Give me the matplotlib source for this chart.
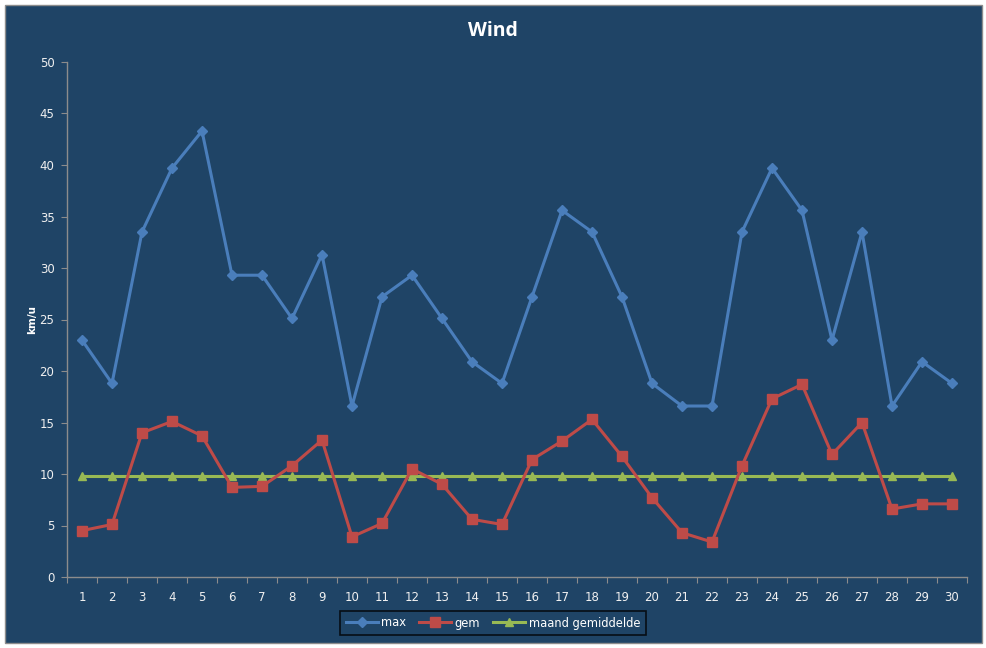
import matplotlib
matplotlib.use("Agg")
import matplotlib.pyplot as plt
from matplotlib.patches import Rectangle
from matplotlib.ticker import FixedLocator, NullFormatter

days = list(range(1, 31))
max_vals = [23.0, 18.8, 33.5, 39.7, 43.3, 29.3, 29.3, 25.1, 31.3, 16.6,
            27.2, 29.3, 25.1, 20.9, 18.8, 27.2, 35.6, 33.5, 27.2, 18.8,
            16.6, 16.6, 33.5, 39.7, 35.6, 23.0, 33.5, 16.6, 20.9, 18.8]
gem_vals = [4.5, 5.1, 14.0, 15.1, 13.7, 8.7, 8.8, 10.8, 13.3, 3.9,
            5.2, 10.5, 9.0, 5.6, 5.1, 11.4, 13.2, 15.3, 11.7, 7.7,
            4.3, 3.4, 10.8, 17.3, 18.7, 11.9, 15.0, 6.6, 7.1, 7.1]
maand_vals = [9.8] * 30
series_names = ["max", "gem", "maand gemiddelde"]
title = "Wind"
ylabel = "km/u"

BG = "#1F4466"
W, H = 987, 648
fig = plt.figure(figsize=(W / 100, H / 100), dpi=100)
fig.patch.set_facecolor("white")
fig.patches.append(Rectangle((5 / W, 1 - 643 / H), 977 / W, 638 / H,
                             transform=fig.transFigure, facecolor=BG,
                             edgecolor="#8C8C8C", linewidth=1.0, zorder=-5))

ax = fig.add_axes([67 / W, 1 - 577 / H, 900 / W, 515 / H])
ax.patch.set_alpha(0)

ax.plot(days, max_vals, color="#4A7EBB", lw=2.2, marker="D", ms=5,
        label=series_names[0], zorder=3)
ax.plot(days, gem_vals, color="#BE4B48", lw=2.2, marker="s", ms=7,
        label=series_names[1], zorder=4)
ax.plot(days, maand_vals, color="#98B954", lw=2.2, marker="^", ms=6,
        label=series_names[2], zorder=2)

ax.set_xlim(0.5, 30.5)
ax.set_ylim(0, 50)
ax.set_yticks(range(0, 51, 5))
ax.xaxis.set_major_locator(FixedLocator([i + 0.5 for i in range(0, 31)]))
ax.xaxis.set_major_formatter(NullFormatter())
ax.xaxis.set_minor_locator(FixedLocator(days))
ax.set_xticklabels([str(d) for d in days], minor=True, family="DejaVu Sans")
ax.tick_params(axis="x", which="major", length=4, color="#8C8C8C", direction="out")
ax.tick_params(axis="x", which="minor", length=0, pad=10, labelcolor="#F0F0F0",
               labelsize=8.5)
ax.tick_params(axis="y", length=4, color="#8C8C8C", labelcolor="#F0F0F0",
               labelsize=8.5, pad=5)
for lab in ax.get_yticklabels():
    lab.set_fontfamily("DejaVu Sans")

for s in ["top", "right"]:
    ax.spines[s].set_visible(False)
for s in ["left", "bottom"]:
    ax.spines[s].set_color("#8C8C8C")
    ax.spines[s].set_linewidth(1.0)

fig.text(493 / W, 1 - 31 / H, title, ha="center", va="center", color="white",
         fontsize=14, fontweight="bold", family="Open Sans")
fig.text(32 / W, 1 - 320 / H, ylabel, ha="center", va="center", color="white",
         fontsize=7.5, fontweight="bold", rotation=90, family="DejaVu Sans")

leg = fig.legend(loc="center", bbox_to_anchor=(493 / W, 1 - 623 / H), ncol=3,
                 frameon=True, handlelength=2.8, columnspacing=1.1,
                 handletextpad=0.3, borderpad=0.5, borderaxespad=0, fancybox=False,
                 prop={"family": "DejaVu Sans", "size": 8.3})
leg.get_frame().set_facecolor(BG)
leg.get_frame().set_edgecolor("black")
leg.get_frame().set_linewidth(1.2)
for t in leg.get_texts():
    t.set_color("white")

fig.savefig("out.png", dpi=100, facecolor=fig.get_facecolor())
